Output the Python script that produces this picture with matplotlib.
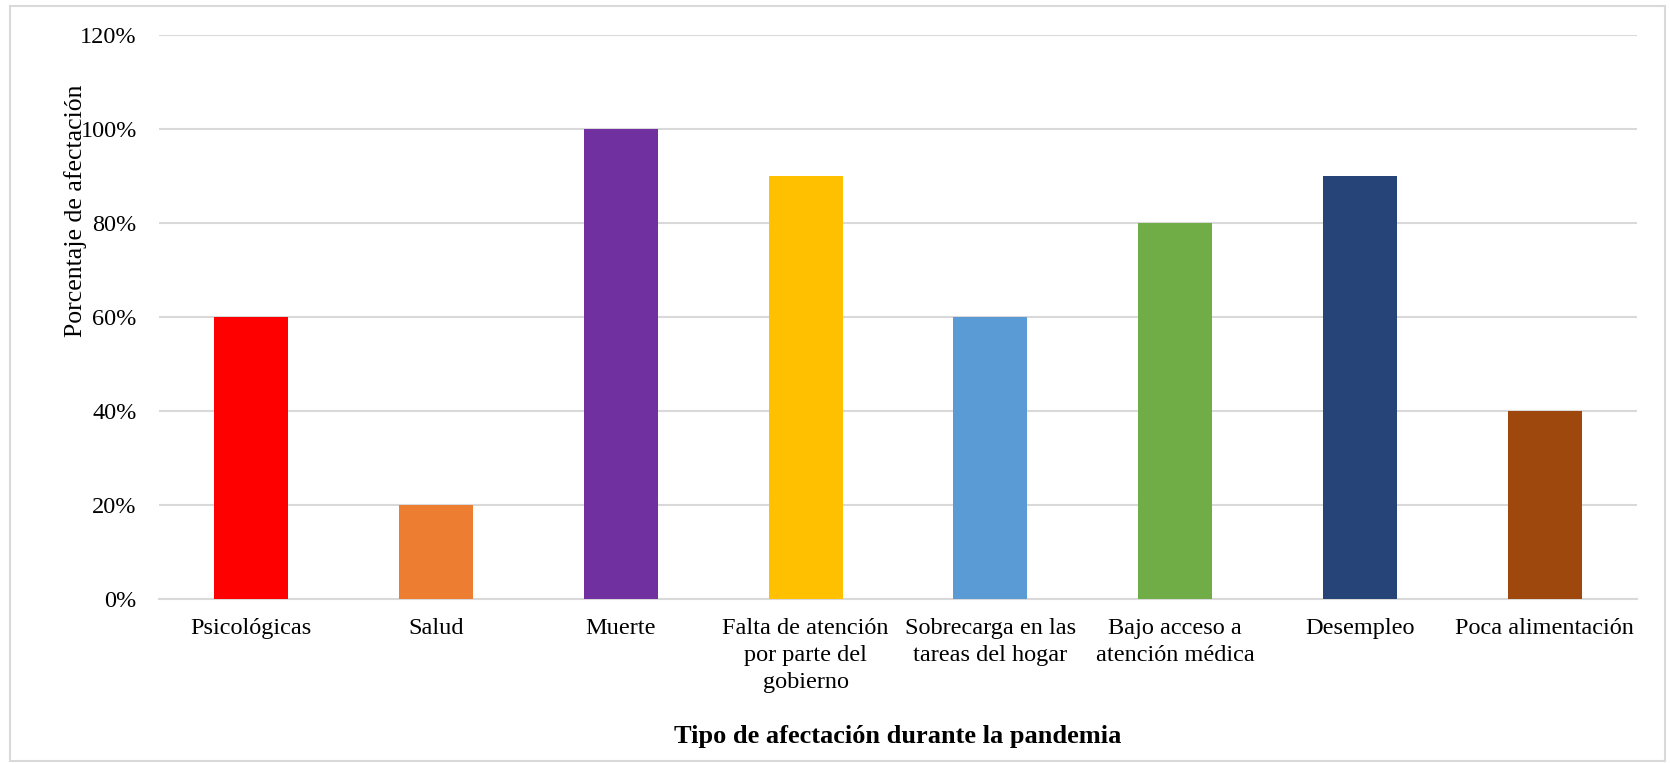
import numpy as np
import matplotlib.pyplot as plt
from matplotlib.patches import Rectangle
from matplotlib.ticker import PercentFormatter

categorias = ['Psicológicas', 'Salud', 'Muerte',
              'Falta de atención\npor parte del\ngobierno',
              'Sobrecarga en las\ntareas del hogar',
              'Bajo acceso a\natención médica',
              'Desempleo', 'Poca alimentación']
porcentajes = [60, 20, 100, 90, 60, 80, 90, 40]
colores = ['#FF0000', '#ED7D31', '#7030A0', '#FFC000',
           '#5B9BD5', '#70AD47', '#264478', '#9E480E']

plt.rcParams['font.family'] = ['Liberation Serif', 'DejaVu Serif']

fig = plt.figure(figsize=(16.7, 7.63), dpi=100)
ax = fig.add_axes([159/1670, 1 - 599/763, (1637-159)/1670, (599-35)/763])

x = np.arange(len(categorias))
ax.bar(x, porcentajes, width=0.4, color=colores, zorder=3)

ax.set_xlim(-0.5, len(categorias) - 0.5)
ax.set_ylim(0, 120)
ax.set_yticks(np.arange(0, 121, 20))
ax.yaxis.set_major_formatter(PercentFormatter(decimals=0))
ax.grid(axis='y', color='#D9D9D9', linewidth=1.5, zorder=0)
for s in ['top', 'right', 'left']:
    ax.spines[s].set_visible(False)
ax.spines['bottom'].set_color('#D9D9D9')
ax.spines['bottom'].set_linewidth(1.5)
ax.tick_params(axis='both', length=0, labelsize=17.5)
ax.tick_params(axis='y', pad=16)
ax.tick_params(axis='x', pad=14)
ax.set_xticks(x)
ax.set_xticklabels(categorias, linespacing=1.36)

ax.set_ylabel('Porcentaje de afectación', fontsize=18.5)
ax.yaxis.set_label_coords(-0.049, 0.688)
ax.set_xlabel('Tipo de afectación durante la pandemia', fontsize=19,
              fontweight='bold', labelpad=23)

fig.patches.append(Rectangle((10/1670, 0.002), 1655/1670, 1 - 6/763 - 0.002,
                             transform=fig.transFigure, fill=False,
                             edgecolor='#D9D9D9', linewidth=1.5))

fig.savefig('out.png', dpi=100)
